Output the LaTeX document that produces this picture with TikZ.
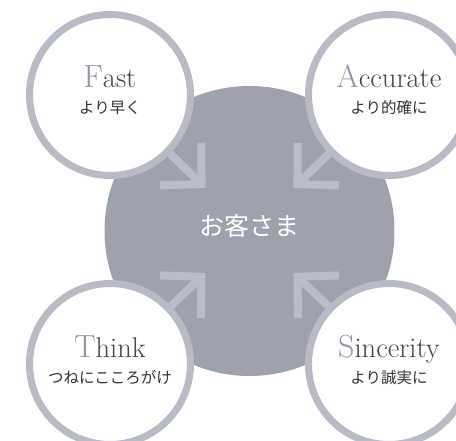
\documentclass[tikz,border=0pt]{standalone}
\usepackage{fontspec}
\newfontfamily\jpfont{Noto Sans CJK JP}
\usetikzlibrary{
    arrows.meta,
    calc
}
\definecolor{custfill}{HTML}{9EA2AF}
\definecolor{ringgray}{HTML}{B8BBC6}
\definecolor{pointgray}{HTML}{BABDC8}
\definecolor{initgray}{HTML}{9095A5}
\definecolor{wordgray}{HTML}{444444}
\definecolor{subgray}{HTML}{333333}
\newcommand{\keyword}[2]{{\fontsize{32}{32}\selectfont\color{initgray}#1}{\fontsize{28.5}{30}\selectfont #2}}

\begin{document}
\begin{tikzpicture}[x=1pt, y=-1pt,
    custnode/.style  = {circle, fill=custfill, minimum size=290pt, inner sep=0pt},
    ringnode/.style  = {circle, draw=ringgray, fill=white, line width=7pt,
                        minimum size=161pt, inner sep=0pt},
    wordnode/.style  = {anchor=base, inner sep=0pt, text=wordgray},
    subnode/.style   = {anchor=base, inner sep=0pt, text=subgray,
                        font=\jpfont\fontsize{15.5}{17}\selectfont},
    pointer/.style   = {draw=pointgray, line width=8pt,
                        -{Straight Barb[sharp, length=29pt, width=59pt, line width=8pt]}},
]
    \useasboundingbox (0,0) rectangle (456,440);

    %Nodes
    \node[custnode] (cust) at (249.5,231) {};
    \node[text=white, font=\jpfont\fontsize{25}{25}\selectfont] (custtxt) at (249.5,226) {お客さま};

    \node[ringnode] (fast)      at (110,95)  {};
    \node[ringnode] (accurate)  at (389,95)  {};
    \node[ringnode] (think)     at (110,364) {};
    \node[ringnode] (sincerity) at (389,364) {};

    %Labels
    \node[wordnode] (fastword)      at ([yshift=8pt]fast.center)      {\keyword{F}{ast}};
    \node[subnode]  (fastsub)       at ([yshift=-18pt]fast.center)    {より早く};
    \node[wordnode] (accurateword)  at ([yshift=8pt]accurate.center)  {\keyword{A}{ccurate}};
    \node[subnode]  (accuratesub)   at ([yshift=-18pt]accurate.center) {より的確に};
    \node[wordnode] (thinkword)     at ([yshift=7pt]think.center)     {\keyword{T}{hink}};
    \node[subnode]  (thinksub)      at ([yshift=-19pt]think.center)   {つねにこころがけ};
    \node[wordnode] (sincerityword) at ([yshift=7pt]sincerity.center) {\keyword{S}{incerity}};
    \node[subnode]  (sinceritysub)  at ([yshift=-19pt]sincerity.center) {より誠実に};

    %Arrows
    \draw[pointer] (fast)      -- ($(fast)!0.685!(cust)$);
    \draw[pointer] (accurate)  -- ($(accurate)!0.685!(cust)$);
    \draw[pointer] (think)     -- ($(think)!0.685!(cust)$);
    \draw[pointer] (sincerity) -- ($(sincerity)!0.685!(cust)$);
\end{tikzpicture}
\end{document}
